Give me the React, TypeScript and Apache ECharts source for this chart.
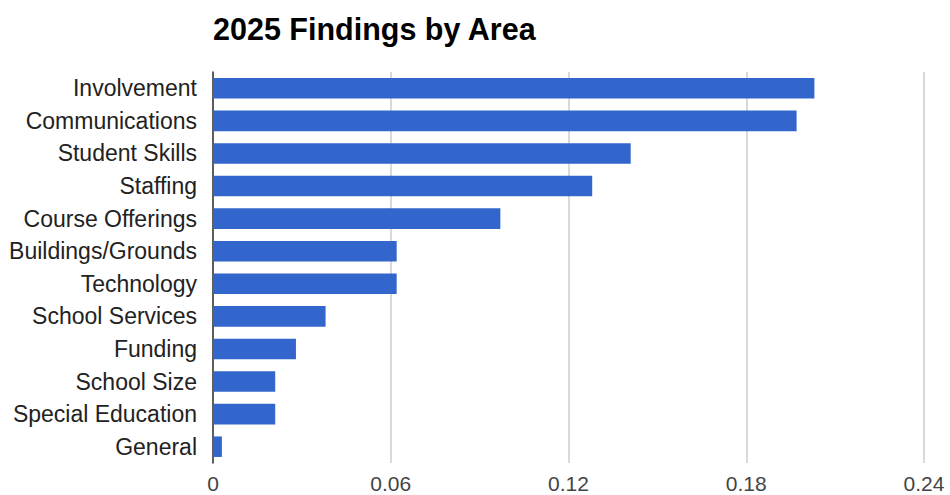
import React, { useEffect, useRef } from "react";
import * as echarts from "echarts";

const categories = [
  "Involvement",
  "Communications",
  "Student Skills",
  "Staffing",
  "Course Offerings",
  "Buildings/Grounds",
  "Technology",
  "School Services",
  "Funding",
  "School Size",
  "Special Education",
  "General",
];
const values = [0.203, 0.197, 0.141, 0.128, 0.097, 0.062, 0.062, 0.038, 0.028, 0.021, 0.021, 0.003];
const xTicks = { min: 0, max: 0.24, interval: 0.06 };
const title = "2025 Findings by Area";

const FONT = "'Liberation Sans', Arial, sans-serif";

export default function App() {
  const ref = useRef<HTMLDivElement>(null);
  useEffect(() => {
    if (!ref.current) return;
    const chart = echarts.init(ref.current, undefined, { renderer: "svg" });
    chart.setOption({
      animation: false,
      backgroundColor: "#ffffff",
      title: {
        text: title,
        left: 208,
        top: 8,
        textStyle: { fontFamily: FONT, fontSize: 30.5, fontWeight: "bold", color: "#000000" },
      },
      grid: {
        left: 213,
        right: 26,
        top: 72,
        height: 391,
        containLabel: false,
        outerBoundsMode: "none",
      },
      xAxis: {
        type: "value",
        min: xTicks.min,
        max: xTicks.max,
        interval: xTicks.interval,
        axisLine: { show: false },
        axisTick: { show: false },
        splitLine: { show: true, lineStyle: { color: "#cccccc", width: 1.5 } },
        axisLabel: {
          fontFamily: FONT,
          fontSize: 21,
          lineHeight: 21,
          color: "#444444",
          margin: 10,
          formatter: (v: number) => (v === 0 ? "0" : String(+v.toFixed(2))),
        },
      },
      yAxis: {
        type: "category",
        data: categories,
        inverse: true,
        axisLine: { show: true, lineStyle: { color: "#333333", width: 1.5 } },
        axisTick: { show: false },
        axisLabel: { fontFamily: FONT, fontSize: 23, color: "#222222", margin: 16 },
      },
      series: [
        {
          type: "bar",
          data: values,
          barCategoryGap: "37%",
          itemStyle: { color: "#3366cc" },
        },
      ],
    });
    return () => chart.dispose();
  }, []);
  return (
    <div
      ref={ref}
      style={{ position: "absolute", left: 0, top: 0, width: 950, height: 495 }}
    />
  );
}
